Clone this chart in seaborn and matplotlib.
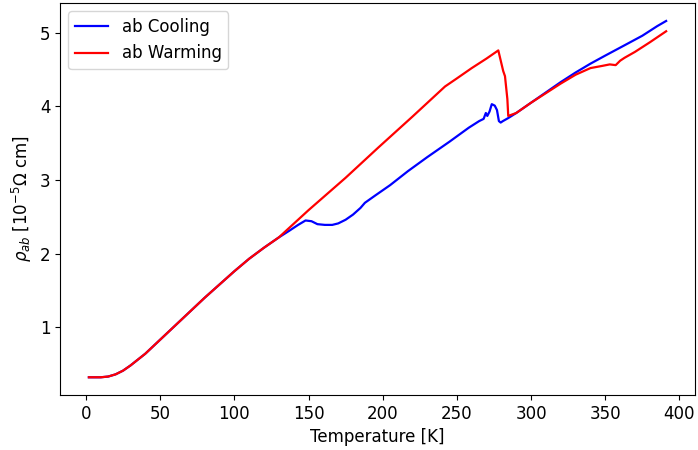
import matplotlib
matplotlib.use("Agg")
import matplotlib.pyplot as plt
import seaborn as sns
import pandas as pd

cool_T = [2, 5, 10, 15, 20, 25, 30, 40, 50, 60, 70, 80, 90, 100, 110, 120, 130,
          137, 143, 148, 152, 156, 161, 166, 170, 175, 180, 185, 188, 195, 205,
          217, 230, 245, 258, 265, 268, 269.5, 270.5, 272, 273.5, 275.5, 277,
          278.3, 279.5, 281, 284.5, 290, 300, 310, 320, 330, 340, 350, 363, 375,
          385, 391]
cool_rho = [0.32, 0.32, 0.32, 0.33, 0.36, 0.41, 0.48, 0.64, 0.83, 1.02, 1.21, 1.40,
            1.58, 1.76, 1.93, 2.08, 2.22,
            2.31, 2.39, 2.45, 2.44, 2.40, 2.39, 2.39, 2.41, 2.46, 2.53, 2.62, 2.69,
            2.79, 2.93, 3.12, 3.31, 3.52, 3.71, 3.80, 3.83, 3.91, 3.87, 3.93, 4.03,
            4.01, 3.95, 3.80, 3.78, 3.80, 3.84, 3.91, 4.05, 4.19, 4.33, 4.46, 4.58,
            4.69, 4.83, 4.96, 5.09, 5.16]

warm_T = [2, 5, 10, 15, 20, 25, 30, 40, 50, 60, 70, 80, 90, 100, 110, 120, 130,
          150, 175, 197, 220, 242, 250, 260, 270, 277.9, 281.2, 282.4, 284, 284.6,
          290, 300, 310, 320, 330, 340, 348, 353, 357, 360, 363, 370, 380, 391]
warm_rho = [0.32, 0.32, 0.32, 0.33, 0.36, 0.41, 0.48, 0.64, 0.83, 1.02, 1.21, 1.40,
            1.58, 1.76, 1.93, 2.08, 2.22,
            2.59, 3.03, 3.44, 3.86, 4.27, 4.38, 4.52, 4.65, 4.76, 4.48, 4.41, 4.10,
            3.87, 3.91, 4.05, 4.18, 4.31, 4.43, 4.52, 4.55, 4.57, 4.56, 4.62, 4.66,
            4.74, 4.87, 5.02]

series_names = ["ab Cooling", "ab Warming"]
series_colors = ["blue", "red"]

df = pd.concat([
    pd.DataFrame({"T": cool_T, "rho": cool_rho, "series": series_names[0]}),
    pd.DataFrame({"T": warm_T, "rho": warm_rho, "series": series_names[1]}),
], ignore_index=True)

plt.rcParams["font.size"] = 12
fig = plt.figure(figsize=(6.98, 4.5), dpi=100)
ax = fig.add_axes([0.086, 0.122, 0.9097, 0.871])
sns.lineplot(data=df, x="T", y="rho", hue="series", sort=False, estimator=None,
             palette=dict(zip(series_names, series_colors)), linewidth=1.6, ax=ax)
ax.set_xlabel("Temperature [K]", fontsize=12)
ax.set_ylabel(r"$\rho_{ab}$ [10$^{-5}\Omega$ cm]", fontsize=12)
ax.set_yticks([1, 2, 3, 4, 5])
ax.tick_params(labelsize=12)
leg = ax.legend(loc="upper left", fontsize=12)
leg.set_title(None)
fig.savefig("out.png", dpi=100)
